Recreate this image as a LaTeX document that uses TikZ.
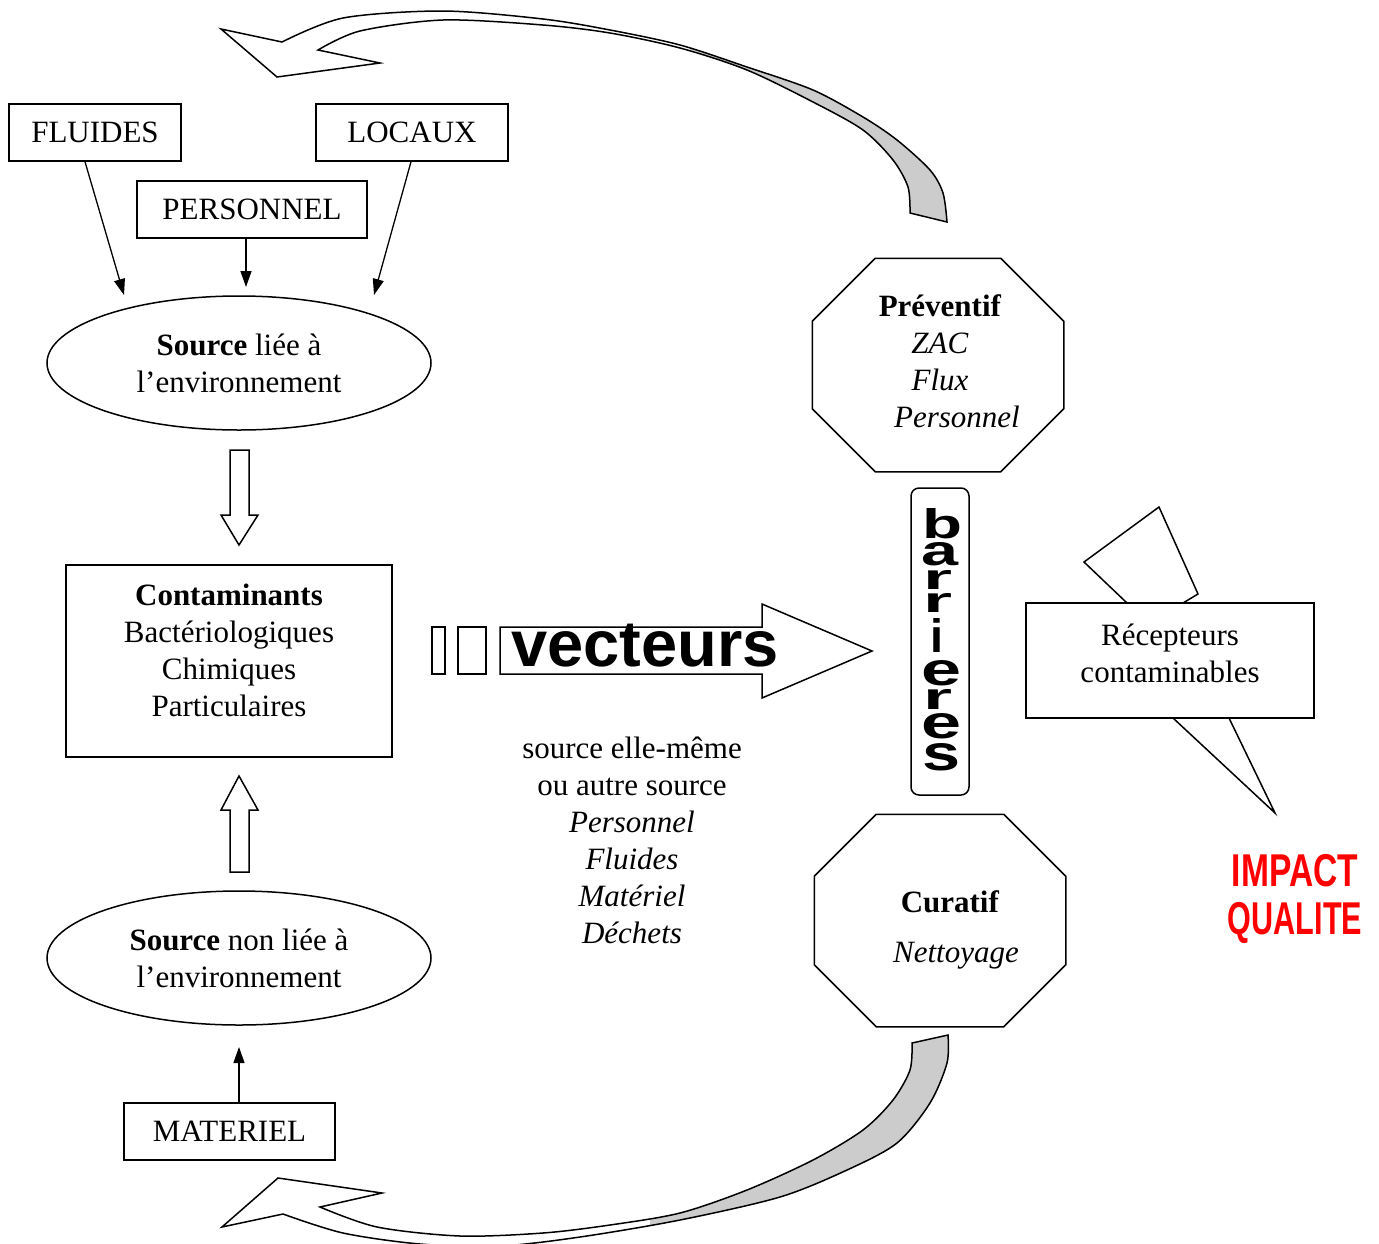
\documentclass[tikz,border=0pt]{standalone}
\usepackage{fontspec}
\setmainfont{Liberation Serif}
\newfontfamily\headsans{Liberation Sans}
\usetikzlibrary{shapes.geometric,arrows.meta}

% octagon outline drawn round a named rectangle node, #2 = corner cut
\newcommand\octoutline[2]{%
  \draw[line width=1.5pt]
    ([xshift=#2]#1.north west) -- ([xshift=-#2]#1.north east)
    -- ([yshift=-#2]#1.north east) -- ([yshift=#2]#1.south east)
    -- ([xshift=-#2]#1.south east) -- ([xshift=#2]#1.south west)
    -- ([yshift=#2]#1.south west) -- ([yshift=-#2]#1.north west) -- cycle;}

\begin{document}
\begin{tikzpicture}[x=1pt,y=-1pt,
  font=\fontsize{31pt}{37pt}\selectfont,
  line width=1.5pt, line join=miter,
  box/.style={draw, rectangle, inner sep=0pt, fill=white},
  oval/.style={draw, ellipse, minimum width=384pt, minimum height=134pt, inner sep=0pt, align=center},
  frame/.style={rectangle, inner sep=0pt},
  txt/.style={inner sep=0pt, align=center},
  thinarrow/.style={line width=1.3pt, -{Triangle[length=16pt,width=11pt]}},
  blockarrow/.style={draw, fill=white, line width=1.5pt},
  letter/.style={inner sep=0pt, font=\fontsize{45pt}{45pt}\headsans\bfseries},
  impact/.style={inner sep=0pt, text=red, font=\fontsize{46pt}{46pt}\headsans\bfseries}]

\useasboundingbox (0,0) rectangle (1379,1243);
\fill[white] (0,0) rectangle (1379,1243);

% ---- sources on the left ----
\node[box, minimum width=172pt, minimum height=57pt] (fluides) at (95,132.5) {FLUIDES};
\node[box, minimum width=192pt, minimum height=57pt] (locaux) at (412,132.5) {LOCAUX};
\node[box, minimum width=230pt, minimum height=57pt] (personnel) at (252,209.5) {PERSONNEL};

\node[oval] (srcenv) at (239,363) {\textbf{Source} liée à\\l’environnement};

\coordinate (flend) at (124,295);
\coordinate (peend) at (246,287);
\coordinate (loend) at (374,295);
\draw[thinarrow] ([xshift=-10pt]fluides.south) -- (flend);
\draw[thinarrow] ([xshift=-6pt]personnel.south) -- (peend);
\draw[thinarrow] ([xshift=-1pt]locaux.south) -- (loend);

% hollow down arrow
\draw[blockarrow] (230,450) -- (249,450) -- (249,515) -- (258,515) -- (239,545)
  -- (221,515) -- (230,515) -- cycle;

\node[frame, draw, minimum width=326pt, minimum height=192pt] (cont) at (229,661) {};
\node[txt] (conttxt) at (229,650) {\textbf{Contaminants}\\Bactériologiques\\Chimiques\\Particulaires};

% hollow up arrow
\draw[blockarrow] (239,776) -- (258,810) -- (249,810) -- (249,872) -- (230,872)
  -- (230,810) -- (221,810) -- cycle;

\node[oval] (srcnon) at (239,958) {\textbf{Source} non liée à\\l’environnement};

\node[box, minimum width=211pt, minimum height=57pt] (materiel) at (229.5,1131.5) {MATERIEL};
\coordinate (maend) at (239,1047);
\draw[thinarrow] ([xshift=9.5pt]materiel.north) -- (maend);

% ---- vectors ----
\draw[line width=1.5pt] (432,627) rectangle (445,674);
\draw[line width=1.5pt] (458,627) rectangle (486,674);
\draw[blockarrow] (500,627) -- (762,627) -- (762,604) -- (872,651) -- (762,698)
  -- (762,674) -- (500,674) -- cycle;
\node[inner sep=0pt, anchor=base, font=\fontsize{65pt}{65pt}\headsans\bfseries] (vect) at (645,666) {vecteurs};

\node[txt] (vectxt) at (632,840) {source elle-même\\ou autre source\\\textit{Personnel}\\\textit{Fluides}\\\textit{Matériel}\\\textit{Déchets}};

% ---- barriers ----
\node[frame, minimum width=250pt, minimum height=212pt] (prev) at (938,365) {};
\octoutline{prev}{63pt}
\node[txt] (prevtxt) at (940,361) {\textbf{Préventif}\\\textit{ZAC}\\\textit{Flux}\\\hspace*{34pt}\textit{Personnel}};

\node[frame, minimum width=250pt, minimum height=211pt] (cura) at (940,920.5) {};
\octoutline{cura}{62pt}
\node[txt] (curatxt) at (950,902) {\textbf{Curatif}};
\node[txt] (nettxt) at (956,956) {\textit{Nettoyage}};

\node[frame, draw, rounded corners=8pt, minimum width=58pt, minimum height=307pt] (barr) at (940,641.5) {};
% stacked letters, each stretched to its own width and height
\foreach \ch/\yy/\w/\h/\xx [count=\k] in {b/524/40/30/942, a/554.5/37/23/940, r/579.5/29/19/938,
    r/603/29/19/938, i/635/13/34/937, e/673.5/40/25/941, r/699/29/20/938, e/726.5/40/25/941, s/757.5/38/27/941}
  \node[letter] (bl\k) at (\xx,\yy) {\resizebox{\w pt}{\h pt}{\ch}};

% ---- receptors and lightning ----
\draw[fill=white, line width=1.5pt] (1127,603) -- (1084,562) -- (1159,507) -- (1198,594)
  -- (1183,603) -- (1229,718) -- (1275,813) -- (1173,718) -- cycle;
\node[box, minimum width=288pt, minimum height=115pt] (recep) at (1170,660.5) {};
\node[txt] (receptxt) at (1170,653) {Récepteurs\\contaminables};

\node[impact] (imp1) at (1295,871) {\scalebox{0.73}[1]{IMPACT}};
\node[impact] (imp2) at (1295,923) {\scalebox{0.665}[1]{QUALITE}};

% ---- curved return arrows ----
\def\topband{plot[smooth,tension=0.5] coordinates {(282,42) (343,18) (443,11) (543,19) (610,30) (680,45) (747,67) (813,90) (863,117) (897,140) (930,170) (943,193) (947,222)}
  -- (910,213) -- plot[smooth,tension=0.5] coordinates {(910,213) (908,187) (893,160) (863,130) (813,102) (747,70) (680,48) (610,33) (543,25) (443,20) (360,31) (318,50)}
  -- (380,63) -- (277,77) -- (221,29) -- cycle}
\fill[white] \topband;
\begin{scope}
  \clip (690,0) rectangle (1000,300);
  \fill[black!20] \topband;
\end{scope}
\draw[line width=1.5pt] \topband;

\def\botband{plot[smooth,tension=0.5] coordinates {(283,1214) (343,1233) (420,1244) (500,1246) (580,1237) (680,1220) (780,1197) (847,1170) (897,1143) (930,1103) (947,1063) (948,1035)}
  -- (912,1043) -- plot[smooth,tension=0.5] coordinates {(912,1043) (910,1070) (893,1100) (863,1130) (813,1160) (747,1190) (680,1213) (610,1225) (543,1233) (460,1236) (377,1227) (320,1207)}
  -- (382,1193) -- (278,1178) -- (222,1227) -- cycle}
\fill[white] \botband;
\begin{scope}
  \clip (650,1000) rectangle (1000,1243);
  \fill[black!20] \botband;
\end{scope}
\draw[line width=1.5pt] \botband;

\end{tikzpicture}
\end{document}
